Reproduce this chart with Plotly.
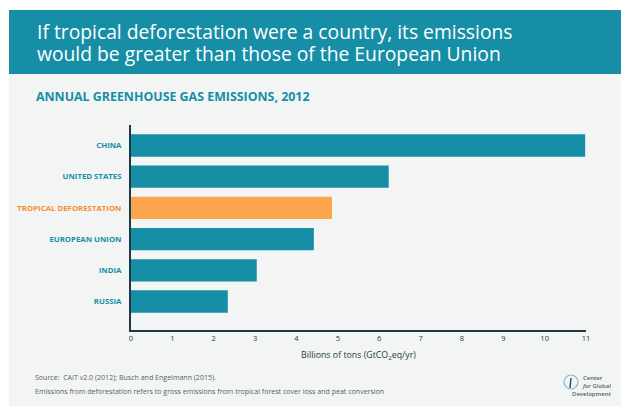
import plotly.graph_objects as go

categories = ["CHINA", "UNITED STATES", "TROPICAL DEFORESTATION", "EUROPEAN UNION", "INDIA", "RUSSIA"]
values = [10.98, 6.23, 4.86, 4.42, 3.04, 2.34]
highlight = "TROPICAL DEFORESTATION"
x_ticks = list(range(0, 12))
title_lines = ["If tropical deforestation were a country, its emissions",
               "would be greater than those of the European Union"]
subtitle = "ANNUAL GREENHOUSE GAS EMISSIONS, 2012"
x_title = "Billions of tons (GtCO<sub>2</sub>eq/yr)"
source_lines = ["Source:  CAIT v2.0 (2012); Busch and Engelmann (2015).",
                "Emissions from deforestation refers to gross emissions from tropical forest cover loss and peat conversion"]
logo_text = "\u00a0" * 7 + "Center<br>" + "\u00a0" * 7 + "<i>for</i> Global<br>Development"

TEAL = "#168ea6"
ORANGE = "#fba64c"
ORANGE_TXT = "#f58c32"
DARK = "#1f3a44"
GREY = "#55626a"
FONT = "Open Sans"
PAGE = 8               # the page's own body margin
W, H = 630 - PAGE, 415 - PAGE
L, R, T, B = 131, 586, 125, 330  # plot box in picture pixels

def px(x): return (x - L) / (R - L)
def py(y): return (B - y) / (B - T)

colors = [ORANGE if c == highlight else TEAL for c in categories]
ticktext = [f'<span style="color:{ORANGE_TXT if c == highlight else TEAL}"><b>{c}</b></span>' for c in categories]

fig = go.Figure(go.Bar(x=values, y=categories, orientation="h", marker=dict(color=colors, line_width=0), width=0.715))

def rect(x0, y0, x1, y1, col):
    return dict(type="rect", xref="paper", yref="paper", x0=px(x0), x1=px(x1), y0=py(y0), y1=py(y1),
                fillcolor=col, line_width=0, layer="below")

shapes = [rect(9, 74, 621, 406, "#f3f5f5"), rect(9, 10, 621, 74, TEAL),
          dict(type="circle", xref="paper", yref="paper", x0=px(564), x1=px(578), y0=py(389), y1=py(375),
               line=dict(color="#7fbcc6", width=1.2), fillcolor="rgba(0,0,0,0)"),
          dict(type="line", xref="paper", yref="paper", x0=px(570), x1=px(571), y0=py(388), y1=py(378),
               line=dict(color="#1d5f70", width=1.5))]

def note(text, x, y, size, color, anchor="left", weight=None):
    return dict(text=text, xref="paper", yref="paper", x=px(x), y=py(y), xanchor=anchor, yanchor="middle", align="left",
                showarrow=False, borderpad=0, font=dict(family=FONT, size=size, color=color, weight=weight))

annotations = [note(title_lines[0], 36, 31.5, 19.3, "white"),
               note(title_lines[1], 36, 53.5, 19.3, "white"),
               note(subtitle, 35, 96, 12.4, TEAL, weight=700),
               note(source_lines[0], 34, 377, 7.05, GREY),
               note(source_lines[1], 34, 391, 7.05, GREY),
               note(logo_text, 571, 386, 6, GREY, weight=600)]

fig.update_layout(
    width=W, height=H, autosize=False, showlegend=False, paper_bgcolor="white", plot_bgcolor="rgba(0,0,0,0)",
    margin=dict(l=L - PAGE, r=630 - R, t=T - PAGE, b=415 - B), shapes=shapes, annotations=annotations,
    font=dict(family=FONT, color=DARK),
    xaxis=dict(range=[0, 11], tickvals=x_ticks, showgrid=False, zeroline=False, showline=True, linecolor=DARK, linewidth=2,
               automargin=True, ticks="", tickfont=dict(size=7.5, color=DARK),
               title=dict(text=x_title, font=dict(size=8.8, color=DARK), standoff=10)),
    yaxis=dict(range=[5.913, -0.657], tickvals=categories, ticktext=ticktext, showgrid=False, zeroline=False, automargin=False,
               showline=True, linecolor=DARK, linewidth=2, ticks="", ticklabelstandoff=6, tickfont=dict(size=7.8)),
)
fig.write_html("out.html")
